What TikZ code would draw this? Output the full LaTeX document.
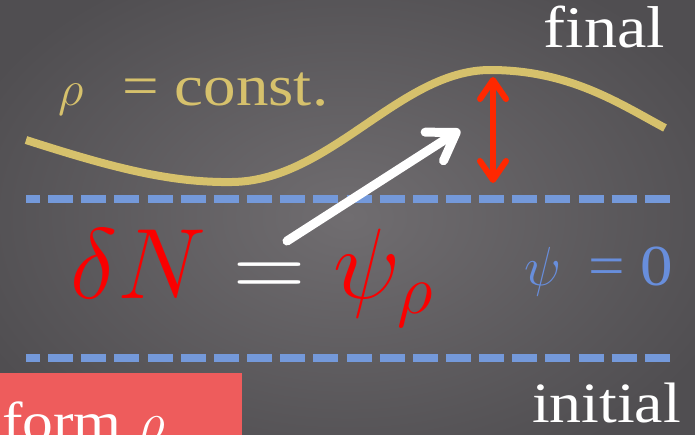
\RequirePackage{fix-cm}
\documentclass[tikz,border=0pt]{standalone}
\usepackage{fontspec}
\setmainfont{Liberation Serif}[FakeStretch=1.12]
\usetikzlibrary{arrows.meta}
\definecolor{bgin}{RGB}{112,109,112}
\definecolor{bgout}{RGB}{80,78,81}
\definecolor{tan}{RGB}{214,193,108}
\definecolor{dashblue}{RGB}{116,153,218}
\definecolor{txtblue}{RGB}{104,142,220}
\definecolor{mathred}{RGB}{250,0,0}
\definecolor{arrred}{RGB}{255,40,0}
\definecolor{boxred}{RGB}{238,92,92}
\tikzset{
  lbl/.style={inner sep=0pt, outer sep=0pt},
  dashline/.style={draw=dashblue, line width=8pt, dash pattern=on 25pt off 8.15pt, dash phase=11pt},
  curveline/.style={draw=tan, line width=8pt},
  redarrow/.style={draw=arrred, line width=6pt, line cap=round,
     {Straight Barb[length=19pt,width=26pt,round]}-{Straight Barb[length=19pt,width=26pt,round]}},
  whitearrow/.style={draw=white, line width=9pt, line cap=round,
     -{Straight Barb[length=26pt,width=34pt,round]}}
}
\begin{document}
\begin{tikzpicture}[x=1pt,y=1pt]
\useasboundingbox (0,0) rectangle (695,-434);
\clip (0,0) rectangle (695,-434);
\shade[inner color=bgin, outer color=bgout] (-60,60) rectangle (755,-494);
% form box
\fill[boxred] (0,-373) rectangle (242,-450);
\node[lbl, anchor=base west, text=white, font=\fontsize{55}{60}\selectfont] (form) at (2,-440) {form $\rho$};
% dashed lines
\coordinate (d1a) at (26,-198.5);
\coordinate (d1b) at (670,-198.5);
\coordinate (d2a) at (26,-358);
\coordinate (d2b) at (670,-358);
\draw[dashline] (d1a) -- (d1b);
\draw[dashline] (d2a) -- (d2b);
% curve
\coordinate (c0) at (26,-140);
\coordinate (c1) at (232,-182);
\coordinate (c2) at (490,-70);
\coordinate (c3) at (665,-128);
\draw[curveline] (c0) .. controls (110,-167) and (170,-183) .. (c1)
  .. controls (330,-181) and (400,-70) .. (c2)
  .. controls (570,-70) and (620,-104) .. (c3);
% labels
\node[lbl, anchor=base west, text=tan, font=\fontsize{50}{55}\selectfont] (rho) at (58,-105) {$\rho$};
\node[lbl, anchor=base west, text=tan, font=\fontsize{58}{62}\selectfont] (const) at (122,-105) {= const.};
\node[lbl, anchor=base east, text=white, font=\fontsize{59}{62}\selectfont] (final) at (665,-47) {final};
\node[lbl, anchor=base east, text=white, font=\fontsize{57}{62}\selectfont] (initial) at (681,-422) {initial};
\node[lbl, anchor=base west, text=txtblue, font=\fontsize{55}{60}\selectfont] (psi) at (524,-285) {$\psi$};
\node[lbl, anchor=base west, text=txtblue, font=\fontsize{58}{62}\selectfont] (zero) at (588,-285) {= 0};
\node[lbl, anchor=base west, text=mathred, font=\fontsize{100}{110}\selectfont] (eq) at (70,-298)
  {$\delta N \mathrel{\color{white}=} \psi_\rho$};
% arrows
\coordinate (r1) at (493,-77);
\coordinate (r2) at (493,-183);
\draw[redarrow] (r1) -- (r2);
\coordinate (w1) at (287,-241);
\coordinate (w2) at (460,-130);
\draw[whitearrow] (w1) -- (w2);
\end{tikzpicture}
\end{document}
